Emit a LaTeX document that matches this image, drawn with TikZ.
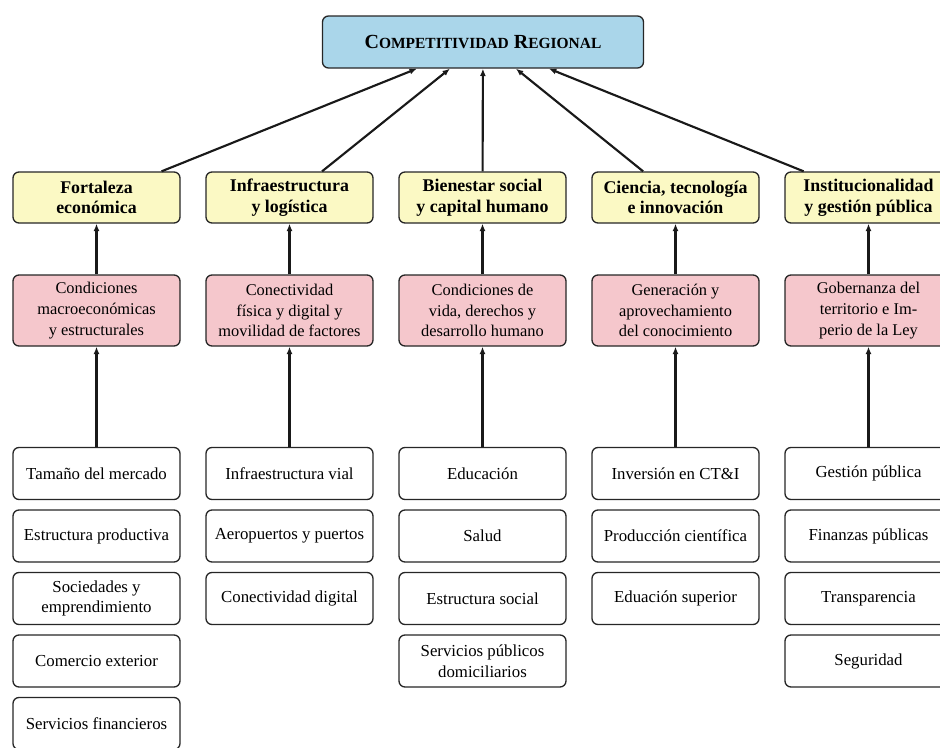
\documentclass[tikz,border=0pt]{standalone}
\usepackage{fontspec}
\setmainfont{Liberation Serif}
\usepackage{tikz}
\usetikzlibrary{arrows.meta}
\definecolor{themeBlue}{RGB}{170, 214, 234}
\definecolor{themeYellow}{RGB}{251, 249, 196}
\definecolor{themePink}{RGB}{245, 199, 204}
\newcommand{\lSmall}[1]{{\fontsize{11.6}{14}\selectfont #1}}
\newcommand{\lGoal}{C\lSmall{OMPETITIVIDAD} R\lSmall{EGIONAL}}

\begin{document}
\begin{tikzpicture} [
        x=0.75pt, y=-0.75pt,
        box/.style={draw=black!85, line width=1pt, rounded corners=4.5pt, align=center, inner sep=2pt},
        width/.style={minimum width=125.25pt},
        goal/.style={box, fill=themeBlue, minimum width=240.75pt, minimum height=39pt, font=\bfseries\fontsize{15}{18}\selectfont},
        pillar/.style={box, width, fill=themeYellow, minimum height=38.25pt, font=\bfseries\fontsize{13.4}{15.5}\selectfont},
        factor/.style={box, width, fill=themePink, minimum height=53.25pt, font=\fontsize{12.3}{15.6}\selectfont},
        item/.style={box, width, fill=white, minimum height=39pt, font=\fontsize{12.6}{15.6}\selectfont},
        arrow/.style={-{Latex[length=5.5pt, width=4.5pt]}, line width=1.6pt, black!90}
    ]

    \useasboundingbox (0, 0) rectangle (940, 747);

    \node[goal] (goal) at (483, 42) {\lGoal};

    \foreach \pillarText/\factorText [count=\i] in {
        {Fortaleza\\económica}/{Condiciones\\macroeconómicas\\y estructurales},
        {Infraestructura\\y logística}/{Conectividad\\física y digital y\\movilidad de factores},
        {Bienestar social\\y capital humano}/{Condiciones de\\vida, derechos y\\desarrollo humano},
        {Ciencia, tecnología\\e innovación}/{Generación y\\aprovechamiento\\del conocimiento},
        {Institucionalidad\\y gestión pública}/{Gobernanza del\\territorio e Im-\\perio de la Ley}} {
        \node[pillar] (pillar \i) at ({96.5+193*(\i-1)}, 197.5) {\pillarText};
        \node[factor] (factor \i) at ({96.5+193*(\i-1)}, 310.5) {\factorText};
        \draw[arrow] (factor \i) -- (pillar \i);
        \draw[arrow] (pillar \i) -- (goal);
    }

    \foreach \itemList [count=\i] in {
        {Tamaño del mercado, Estructura productiva, Sociedades y\\emprendimiento, Comercio exterior, Servicios financieros},
        {Infraestructura vial, Aeropuertos y puertos, Conectividad digital},
        {Educación, Salud, Estructura social, Servicios públicos\\domiciliarios},
        {Inversión en CT\&I, Producción científica, Eduación superior},
        {Gestión pública, Finanzas públicas, Transparencia, Seguridad}} {
        \foreach \itemText [count=\j] in \itemList {
            \node[item] (item \i-\j) at ({96.5+193*(\i-1)}, {473.5+62.5*(\j-1)}) {\itemText};
        }
        \draw[arrow] (item \i-1) -- (factor \i);
    }

\end{tikzpicture}
\end{document}
